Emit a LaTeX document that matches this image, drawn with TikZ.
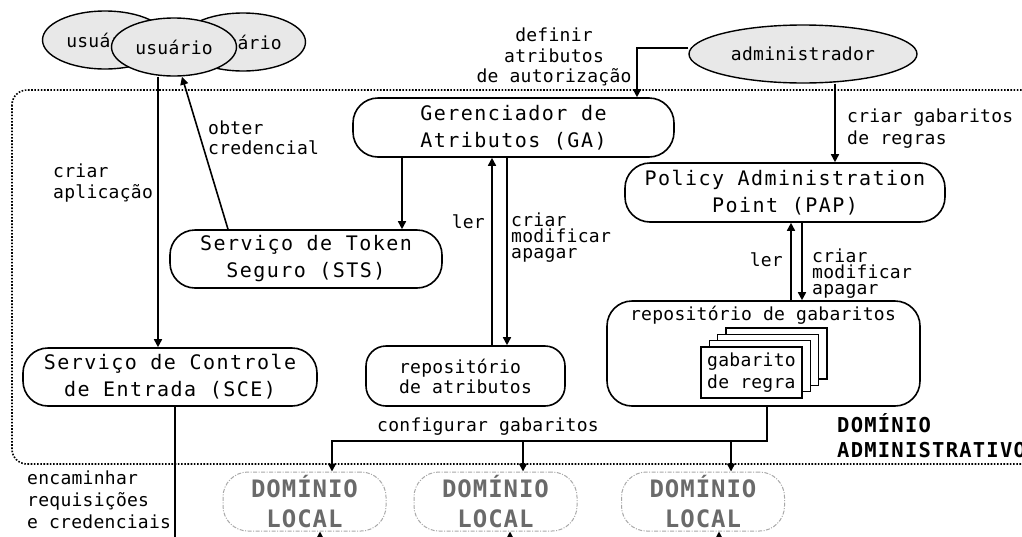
\documentclass[tikz,border=0pt]{standalone}
\usepackage{fontspec}
\usetikzlibrary{arrows.meta,backgrounds,calc,shapes.geometric}
\newfontfamily\bigf[LetterSpace=7.3]{DejaVu Sans Mono}
\newfontfamily\smf[LetterSpace=1.5]{DejaVu Sans Mono}
\newfontfamily\locf[LetterSpace=4]{DejaVu Sans Mono}
\newfontfamily\admf[LetterSpace=6]{DejaVu Sans Mono}
\definecolor{ellfill}{HTML}{E8E8E8}
\definecolor{locgray}{HTML}{6A6A6A}
\definecolor{locline}{HTML}{A8A8A8}
\begin{document}
\begin{tikzpicture}[x=1pt,y=-1pt,
  conn/.style={line width=1.6pt},
  arr/.style={conn,-{Triangle[length=8pt,width=8pt]}},
  ell/.style={ellipse,draw,line width=1.4pt,fill=ellfill,minimum width=125pt,minimum height=58pt,inner sep=0pt,font=\smf\fontsize{18}{20}\selectfont},
  rbox/.style={draw,line width=1.6pt,rounded corners=25pt,inner sep=0pt,align=center,font=\bigf\fontsize{20}{27}\selectfont},
  lbl/.style={inner sep=0pt,font=\smf\fontsize{18}{20.5}\selectfont},
  lbltight/.style={lbl,font=\smf\fontsize{18}{16}\selectfont,align=left},
  loc/.style={draw=locline,line width=1pt,dash pattern=on 4pt off 1.5pt on 1pt off 1.5pt,rounded corners=25pt,minimum width=163pt,minimum height=59pt,inner sep=0pt,align=center,text=locgray,font=\locf\bfseries\fontsize{24}{30}\selectfont},
  card/.style={draw,line width=1.4pt,fill=white,minimum width=101pt,minimum height=51pt,inner sep=0pt}
]
\useasboundingbox (0,0) rectangle (1022,536);
\clip (0,0) rectangle (1022,536);

% actors
\node[ell] (ul) at (105,40) {usuário};
\node[ell] (ur) at (243,42) {usuário};
\node[ell] (u) at (174,47) {usuário};
\node[ell,minimum width=228pt] (admin) at (803,54) {administrador};

% components
\node[rbox,minimum width=321pt,minimum height=59pt] (ga) at (513.5,127.5) {Gerenciador de\\Atributos (GA)};
\node[rbox,minimum width=320pt,minimum height=59pt] (pap) at (785,192.5) {Policy Administration\\Point (PAP)};
\node[rbox,minimum width=272pt,minimum height=58pt] (sts) at (306,259) {Serviço de Token\\Seguro (STS)};
\node[rbox,minimum width=294pt,minimum height=58pt] (sce) at (170,377) {Serviço de Controle\\de Entrada (SCE)};
\node[rbox,minimum width=199pt,minimum height=60pt,rounded corners=20pt,align=left,font=\smf\fontsize{18}{20}\selectfont] (arepo) at (465.5,376) {repositório\\de atributos};
\node[rbox,minimum width=313pt,minimum height=105pt] (trepo) at (763.5,353.5) {};
\node[lbl] (trepol) at (763,315) {repositório de gabaritos};
\foreach \k in {3,2,1} \node[card] (card\k) at ({751.5+8.3*\k},{372.5-6.3*\k}) {};
\node[card,align=left,font=\smf\fontsize{18}{22}\selectfont] (card) at (751.5,372.5) {gabarito\\de regra};

% local domains
\node[loc] (dl1) at (304.5,501.5) {DOMÍNIO\\LOCAL};
\node[loc] (dl2) at (495.5,501.5) {DOMÍNIO\\LOCAL};
\node[loc] (dl3) at (703,501.5) {DOMÍNIO\\LOCAL};
\node[inner sep=0pt,anchor=west,align=left,font=\admf\bfseries\fontsize{20.5}{25}\selectfont] (adm) at (837,435.5) {DOMÍNIO\\ADMINISTRATIVO};

% labels
\node[lbl,anchor=west,align=left] (l1) at (53,183) {criar\\aplicação};
\node[lbl,anchor=west,align=left] (l2) at (208,138) {obter\\credencial};
\node[lbl,align=center] (l3) at (554,57) {definir\\atributos\\de autorização};
\node[lbl,anchor=west,align=left,font=\smf\fontsize{18}{22}\selectfont] (l4) at (847,129) {criar gabaritos\\de regras};
\node[lbl,anchor=east] (l5) at (485,222) {ler};
\node[lbltight,anchor=west] (l6) at (511,238) {criar\\modificar\\apagar};
\node[lbl,anchor=east] (l7) at (783,260) {ler};
\node[lbltight,anchor=west] (l8) at (812,274) {criar\\modificar\\apagar};
\node[lbl] (l9) at (488,427) {configurar gabaritos};
\node[lbl,anchor=west,align=left,font=\smf\fontsize{18}{22}\selectfont] (l10) at (27,500) {encaminhar\\requisições\\e credenciais};

\begin{scope}[on background layer]
\draw[line width=1.6pt,dash pattern=on 1.6pt off 1.6pt,rounded corners=15pt] (12,90) rectangle (1040,464);
\draw[arr] (u.south -| 158,0) -- (sce.north -| 158,0);
\draw[arr] (sts.north -| 228,0) -- ($(u.south)+(8,0)$);
\draw[arr] (admin.west |- 0,48) -| (ga.north -| 637,0);
\draw[arr] (admin.south -| 835,0) -- (pap.north -| 835,0);
\draw[arr] (ga.south -| 402,0) -- (sts.north -| 402,0);
\draw[arr] (arepo.north -| 492,0) -- (ga.south -| 492,0);
\draw[arr] (ga.south -| 507,0) -- (arepo.north -| 507,0);
\draw[arr] (trepo.north -| 791,0) -- (pap.south -| 791,0);
\draw[arr] (pap.south -| 802,0) -- (trepo.north -| 802,0);
\draw[arr] (trepo.south -| 767,0) |- (332,441) -- (dl1.north -| 332,0);
\draw[arr] (523,441) -- (dl2.north -| 523,0);
\draw[arr] (731,441) -- (dl3.north -| 731,0);
\draw[conn] (sce.south -| 175,0) -- (175,560);
\draw[arr] (320,560) -- (dl1.south -| 320,0);
\draw[arr] (510,560) -- (dl2.south -| 510,0);
\draw[arr] (719,560) -- (dl3.south -| 719,0);
\end{scope}
\end{tikzpicture}
\end{document}
